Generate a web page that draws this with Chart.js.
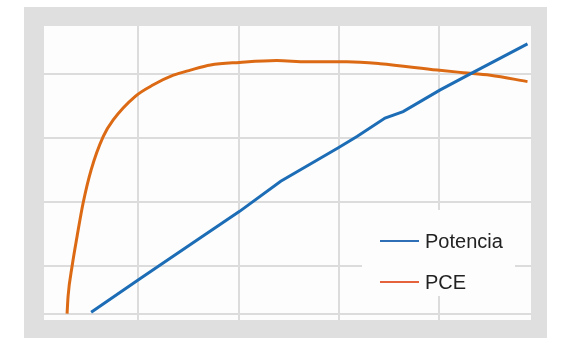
<!DOCTYPE html>
<html>
<head>
<meta charset="utf-8">
<title>Potencia / PCE</title>
<script src="https://cdn.jsdelivr.net/npm/chart.js@4/dist/chart.umd.min.js"></script>
<style>
  html, body { margin: 0; padding: 0; background: #fff; }
  #chart { display: block; }
</style>
</head>
<body>
<canvas id="chart" width="580" height="346"></canvas>
<script>
// data (no axis labels, arbitrary units)
const seriesNames = ['Potencia', 'PCE'];

const potX = [0.53, 1.02, 1.52, 2.01, 2.42, 2.99, 3.18, 3.46, 3.64, 4.01, 4.31, 4.88];
const potY = [0.02, 0.55, 1.08, 1.60, 2.07, 2.59, 2.77, 3.06, 3.16, 3.50, 3.75, 4.22];

const pceX = [0.29, 0.30, 0.34, 0.39, 0.45, 0.53, 0.65, 0.75, 0.97, 1.15, 1.35,
              1.52, 1.72, 2.01, 2.38, 2.68, 3.08, 3.41, 3.98, 4.24, 4.51, 4.88];
const pceY = [0.00, 0.27, 0.74, 1.21, 1.73, 2.25, 2.77, 3.03, 3.40, 3.58, 3.73,
              3.81, 3.89, 3.93, 3.96, 3.94, 3.94, 3.91, 3.81, 3.77, 3.73, 3.63];

// grid positions
const xTicks = [1, 2, 3, 4];
const yTicks = [0, 0.75, 1.75, 2.75, 3.75];

const toPoints = (xs, ys) => xs.map((x, i) => ({ x: x, y: ys[i] }));

// gray frame + white plot background
const framePlugin = {
  id: 'frame',
  beforeDraw(chart) {
    const { ctx, chartArea: a } = chart;
    ctx.save();
    ctx.fillStyle = '#dfdfdf';
    ctx.fillRect(a.left - 20, a.top - 19, (a.right - a.left) + 36, (a.bottom - a.top) + 37);
    ctx.fillStyle = '#fdfdfd';
    ctx.fillRect(a.left, a.top, a.right - a.left, a.bottom - a.top);
    ctx.restore();
  }
};

// legend box inside the plot, bottom right
const insideLegend = {
  id: 'insideLegend',
  afterDatasetsDraw(chart, args, opts) {
    const { ctx, chartArea: a } = chart;
    const left = a.right - 169, top = a.bottom - 110;
    ctx.save();
    ctx.fillStyle = '#fdfdfd';
    ctx.fillRect(left, top, 153, 86);
    ctx.font = '20px "Liberation Sans", Arial, sans-serif';
    ctx.textBaseline = 'middle';
    chart.data.datasets.forEach((ds, i) => {
      const y = top + 31 + i * 41;
      ctx.strokeStyle = opts.colors[i];
      ctx.lineWidth = 2;
      ctx.beginPath();
      ctx.moveTo(left + 18, y);
      ctx.lineTo(left + 57, y);
      ctx.stroke();
      ctx.fillStyle = '#222';
      ctx.fillText(ds.label, left + 63, y + 1);
    });
    ctx.restore();
  }
};

new Chart(document.getElementById('chart'), {
  type: 'line',
  data: {
    datasets: [
      {
        label: seriesNames[0],
        data: toPoints(potX, potY),
        borderColor: '#1c6db6',
        borderWidth: 3,
        pointRadius: 0,
        tension: 0
      },
      {
        label: seriesNames[1],
        data: toPoints(pceX, pceY),
        borderColor: '#dc6a14',
        borderWidth: 3,
        pointRadius: 0,
        cubicInterpolationMode: 'monotone'
      }
    ]
  },
  options: {
    responsive: false,
    animation: false,
    layout: { padding: { left: 44, right: 49, top: 26, bottom: 26 } },
    plugins: {
      legend: { display: false },
      tooltip: { enabled: false },
      insideLegend: { colors: ['#2f6fb5', '#e4623c'] }
    },
    scales: {
      x: {
        type: 'linear',
        min: 0.06,
        max: 4.915,
        afterBuildTicks: s => { s.ticks = xTicks.map(v => ({ value: v })); },
        afterFit: s => { s.height = 0; },
        ticks: { display: false },
        grid: { color: '#dcdcdc', lineWidth: 2, drawTicks: false },
        border: { display: false }
      },
      y: {
        type: 'linear',
        min: -0.1,
        max: 4.5,
        afterBuildTicks: s => { s.ticks = yTicks.map(v => ({ value: v })); },
        afterFit: s => { s.width = 0; },
        ticks: { display: false },
        grid: { color: '#dcdcdc', lineWidth: 2, drawTicks: false },
        border: { display: false }
      }
    }
  },
  plugins: [framePlugin, insideLegend]
});
</script>
</body>
</html>
